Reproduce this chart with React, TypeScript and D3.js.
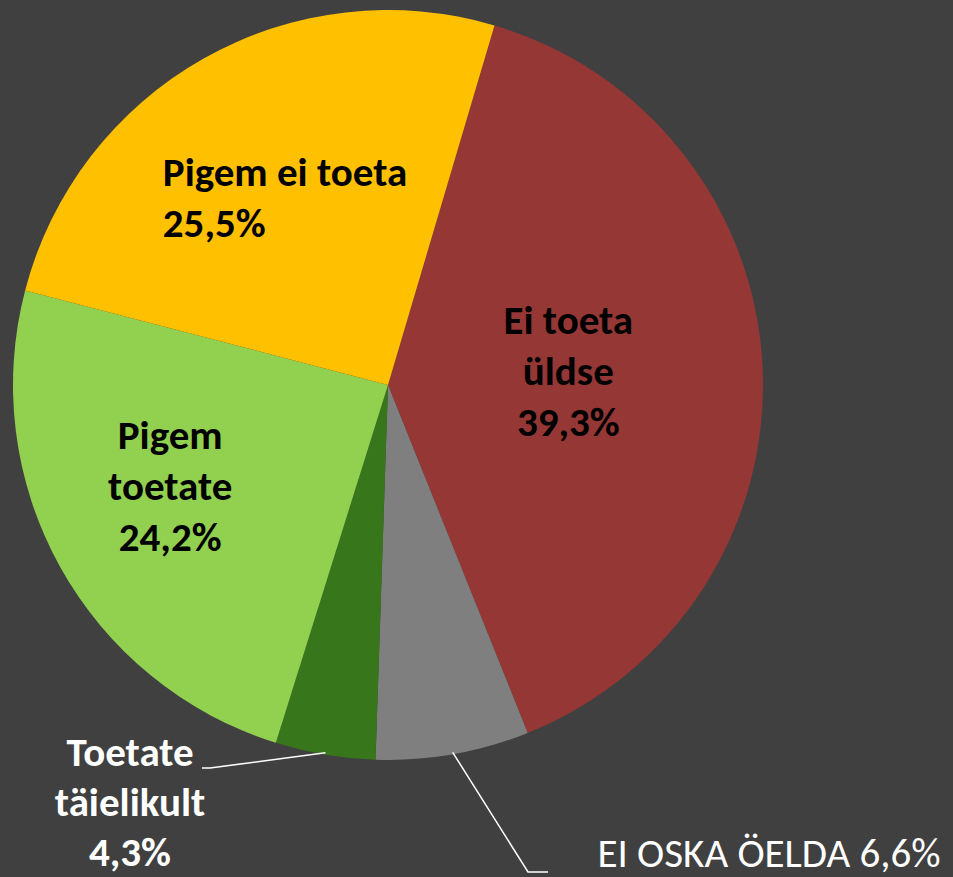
import React from 'react';
import * as d3 from 'd3';

const width = 953;
const height = 877;

// slices in drawing order, clockwise
const categories = ['Ei toeta üldse', 'EI OSKA ÖELDA', 'Toetate täielikult', 'Pigem toetate', 'Pigem ei toeta'];
const values = [39.3, 6.6, 4.3, 24.2, 25.5];
const colors = ['#953735', '#7f7f7f', '#38761b', '#92d050', '#ffc000'];
const labelLines = [
  ['Ei toeta', 'üldse', '39,3%'],
  ['EI OSKA ÖELDA 6,6%'],
  ['Toetate', 'täielikult', '4,3%'],
  ['Pigem', 'toetate', '24,2%'],
  ['Pigem ei toeta', '25,5%'],
];

const cx = 388;
const cy = 385;
const radius = 375;
const startDeg = 16.5;
const lineH = 51;
const fs = 41;
const font = 'Calibri, Carlito, Lato, "Open Sans", sans-serif';

// label placement: inner (radius factor) or outer (leader line)
const inside = [
  { r: 0.5, dx: -7, dy: -5, anchor: 'middle' },
  null,
  null,
  { r: 0.6, dx: -21, dy: -8, anchor: 'middle' },
  { r: 0.5, dx: -133, dy: -24, anchor: 'start' },
];

const App = () => {
  const pie = d3.pie<number>()
    .sort(null)
    .startAngle((startDeg * Math.PI) / 180)
    .endAngle((startDeg * Math.PI) / 180 + 2 * Math.PI);
  const arcs = pie(values);
  const arc = d3.arc<d3.PieArcDatum<number>>().innerRadius(0).outerRadius(radius);

  const edge = (a: d3.PieArcDatum<number>, r: number) => {
    const m = (a.startAngle + a.endAngle) / 2;
    return [r * Math.sin(m), -r * Math.cos(m)];
  };

  const grayEdge = edge(arcs[1], radius - 2);
  const greenEdge = edge(arcs[2], radius - 2);

  return (
    <svg width={width} height={height} style={{ display: 'block', position: 'absolute', left: 0, top: 0, background: '#404040' }}>
      <rect width={width} height={height} fill="#404040" />
      <g transform={`translate(${cx},${cy})`}>
        {arcs.map((a, i) => (
          <path key={categories[i]} d={arc(a) || ''} fill={colors[i]} />
        ))}
        {arcs.map((a, i) => {
          const p = inside[i];
          if (!p) return null;
          const [x, y] = edge(a, radius * p.r);
          const lines = labelLines[i];
          const y0 = y + p.dy - ((lines.length - 1) * lineH) / 2;
          return (
            <text key={'l' + i} x={x + p.dx} y={y0} textAnchor={p.anchor}
              fontFamily={font} fontWeight="bold" fontSize={fs} fill="#000" dominantBaseline="central">
              {lines.map((t, j) => (
                <tspan key={j} x={x + p.dx} y={y0 + j * lineH}>{t}</tspan>
              ))}
            </text>
          );
        })}
        {/* gray slice leader */}
        <polyline
          points={`${grayEdge[0]},${grayEdge[1]} ${140},${487} ${160},${487}`}
          fill="none" stroke="#fff" strokeWidth={1.5} />
        {/* dark green slice leader */}
        <polyline
          points={`${greenEdge[0]},${greenEdge[1]} ${-178},${383} ${-186},${383}`}
          fill="none" stroke="#fff" strokeWidth={1.5} />
      </g>
      <text x={769} y={853} textAnchor="middle" dominantBaseline="central"
        fontFamily={font} fontSize={fs} fill="#fff">{labelLines[1][0]}</text>
      <text textAnchor="middle" dominantBaseline="central" fontFamily={font}
        fontWeight="bold" fontSize={fs} fill="#fff">
        {labelLines[2].map((t, j) => (
          <tspan key={j} x={130} y={752 + j * 50}>{t}</tspan>
        ))}
      </text>
    </svg>
  );
};

export default App;
